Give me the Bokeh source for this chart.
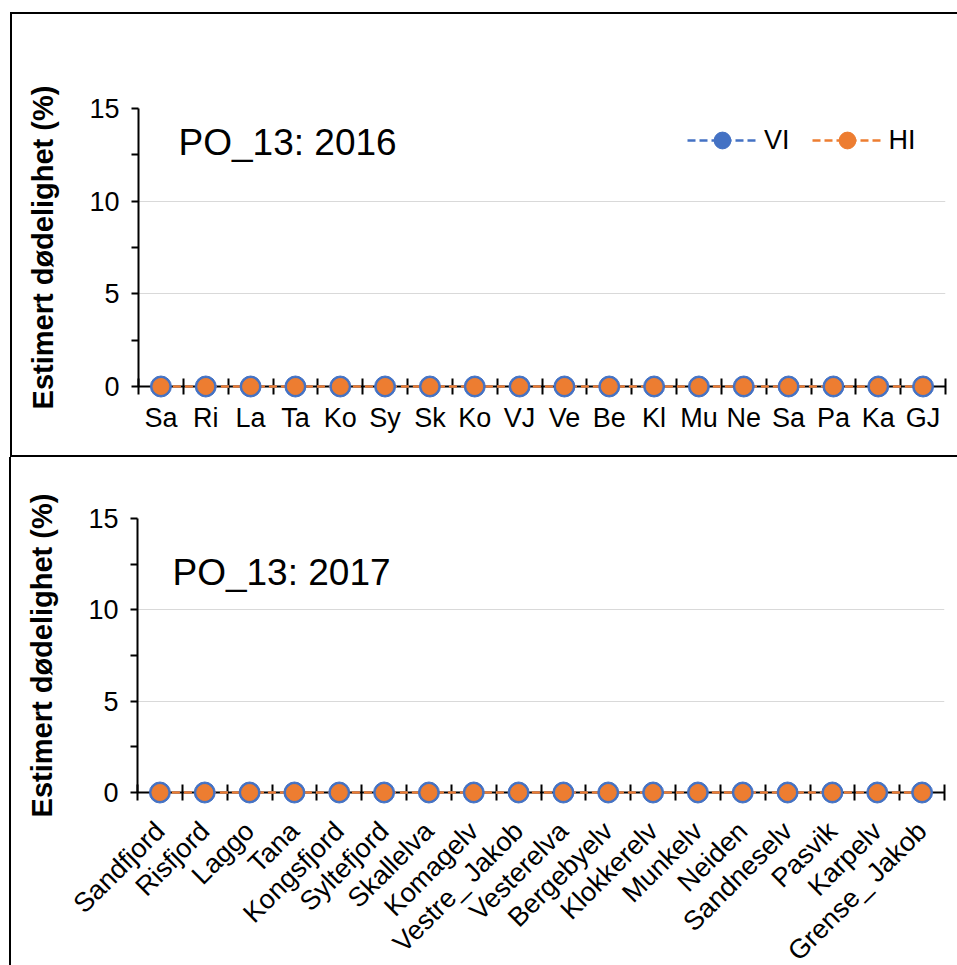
import math
from bokeh.plotting import figure
from bokeh.models import ColumnDataSource, FixedTicker, Label, Legend, LegendItem, Range1d
from bokeh.layouts import column
from bokeh.embed import file_html
from bokeh.resources import INLINE

# ---- data ----
sites = ["Sandfjord", "Risfjord", "Laggo", "Tana", "Kongsfjord", "Syltefjord",
         "Skallelva", "Komagelv", "Vestre_ Jakob", "Vesterelva", "Bergebyelv",
         "Klokkerelv", "Munkelv", "Neiden", "Sandneselv", "Pasvik", "Karpelv",
         "Grense_ Jakob"]
abbr = ["Sa", "Ri", "La", "Ta", "Ko", "Sy", "Sk", "Ko", "VJ", "Ve", "Be", "Kl",
        "Mu", "Ne", "Sa", "Pa", "Ka", "GJ"]
vi_2016 = [0, 0, 0, 0, 0, 0, 0, 0, 0, 0, 0, 0, 0, 0, 0, 0, 0, 0]
hi_2016 = [0, 0, 0, 0, 0, 0, 0, 0, 0, 0, 0, 0, 0, 0, 0, 0, 0, 0]
vi_2017 = [0, 0, 0, 0, 0, 0, 0, 0, 0, 0, 0, 0, 0, 0, 0, 0, 0, 0]
hi_2017 = [0, 0, 0, 0, 0, 0, 0, 0, 0, 0, 0, 0, 0, 0, 0, 0, 0, 0]
y_ticks = [0, 5, 10, 15]
y_minor = [2.5, 7.5, 12.5]
titles = ["PO_13: 2016", "PO_13: 2017"]
y_label = "Estimert dødelighet (%)"

FONT = "Liberation Sans"
BLUE = "#4472C4"
ORANGE = "#ED7D31"
TICK_FS = "27px"


def panel(title, vi, hi, labels, rotate, show_legend, borders, title_xy):
    n = len(labels)
    centers = [i + 0.5 for i in range(n)]
    bounds = list(range(n + 1))
    src = ColumnDataSource(dict(x=centers, vi=vi, hi=hi))
    p = figure(output_backend="svg", toolbar_location=None,
               x_range=Range1d(0, n), y_range=Range1d(0, 15),
               frame_width=805, frame_height=274, **borders)
    p.outline_line_color = None
    p.background_fill_color = "white"
    p.border_fill_color = "white"

    # grid
    p.xgrid.visible = False
    p.ygrid.ticker = FixedTicker(ticks=y_ticks)
    p.ygrid.grid_line_color = "#d9d9d9"
    p.ygrid.grid_line_width = 1

    # y axis
    ya = p.yaxis[0]
    ya.ticker = FixedTicker(ticks=y_ticks, minor_ticks=y_minor)
    ya.axis_line_color = "black"
    ya.axis_line_width = 2
    ya.major_tick_line_color = "black"
    ya.major_tick_line_width = 2
    ya.major_tick_in = 0
    ya.major_tick_out = 7
    ya.minor_tick_line_color = "black"
    ya.minor_tick_line_width = 2
    ya.minor_tick_in = 0
    ya.minor_tick_out = 7
    ya.major_label_text_font = FONT
    ya.major_label_text_font_size = TICK_FS
    ya.major_label_text_color = "black"
    ya.major_label_standoff = 12
    ya.axis_label = y_label
    ya.axis_label_text_font = FONT
    ya.axis_label_text_font_size = "29px"
    ya.axis_label_text_font_style = "bold"
    ya.axis_label_text_color = "black"
    ya.axis_label_standoff = 27

    # x axis
    xa = p.xaxis[0]
    xa.ticker = FixedTicker(ticks=centers, minor_ticks=bounds)
    xa.major_label_overrides = {c: lab for c, lab in zip(centers, labels)}
    xa.axis_line_color = "black"
    xa.axis_line_width = 2
    xa.major_tick_line_color = None
    xa.minor_tick_line_color = "black"
    xa.minor_tick_line_width = 2
    xa.minor_tick_in = 8
    xa.minor_tick_out = 8
    xa.major_tick_out = 4
    xa.major_tick_in = 0
    xa.major_label_text_font = FONT
    xa.major_label_text_font_size = TICK_FS
    xa.major_label_text_color = "black"
    xa.major_label_standoff = 26 if rotate else 8
    if rotate:
        xa.major_label_orientation = math.pi / 4

    # series
    dash = "8 4"
    l1 = p.line("x", "vi", source=src, line_color=BLUE, line_width=2.5, line_dash=dash, level="overlay")
    l2 = p.line("x", "hi", source=src, line_color=ORANGE, line_width=2.5, line_dash=dash, level="overlay")
    m1 = p.scatter("x", "vi", source=src, size=21, marker="circle", fill_color=BLUE,
                   line_color=BLUE, line_width=1, level="overlay")
    m2 = p.scatter("x", "hi", source=src, size=16, marker="circle", fill_color=ORANGE,
                   line_color=ORANGE, line_width=1, level="overlay")

    if show_legend:
        leg = Legend(items=[LegendItem(label="VI", renderers=[l1, m1]),
                            LegendItem(label="HI", renderers=[l2, m2])],
                     orientation="horizontal", location=(549, 225),
                     glyph_width=70, glyph_height=42, label_standoff=7, spacing=22,
                     padding=0, margin=0, border_line_color=None,
                     background_fill_alpha=0, label_text_font=FONT,
                     label_text_font_size=TICK_FS, label_text_color="black")
        p.add_layout(leg)

    # chart title inside plot area
    p.add_layout(Label(x=title_xy[0], y=title_xy[1], text=title, text_font=FONT,
                       text_font_size="37px", text_color="black",
                       text_baseline="middle", text_align="left"))
    return p


p1 = panel(titles[0], vi_2016, hi_2016, abbr, False, True,
           dict(min_border_left=125, min_border_right=15, min_border_top=94, min_border_bottom=73),
           (0.894, 13.17))
p1.margin = (12, 0, 0, 10)
p1.styles = {"border-left": "2px solid black", "border-top": "2px solid black",
             "border-bottom": "2px solid black", "border-right": "none"}

p2 = panel(titles[1], vi_2017, hi_2017, sites, True, False,
           dict(min_border_left=126, min_border_right=13, min_border_top=61, min_border_bottom=172),
           (0.78, 12.07))
p2.margin = (0, 0, 0, 9)
p2.styles = {"border-left": "2px solid black", "border-right": "none"}

layout = column(p1, p2, spacing=0)
open("out.html", "w").write(file_html(layout, INLINE))
